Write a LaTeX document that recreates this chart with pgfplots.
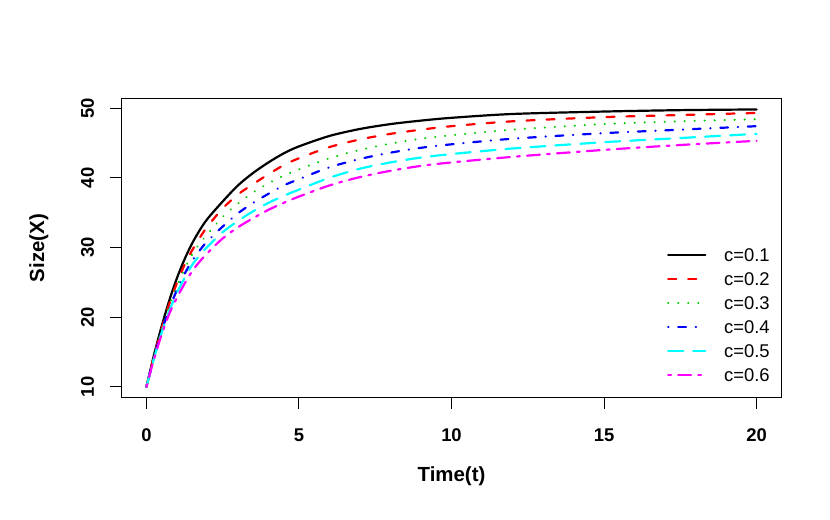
\documentclass[border=0pt]{standalone}
\usepackage{fontspec}
\setmainfont{Liberation Sans}
\usepackage{pgfplots}
\usepackage{pgfplotstable}
\pgfplotsset{compat=1.18}
\definecolor{rgreen}{RGB}{0,205,0}
\definecolor{rblue}{RGB}{0,0,255}
\definecolor{rcyan}{RGB}{0,255,255}
\definecolor{rmag}{RGB}{255,0,255}
\definecolor{rred}{RGB}{255,0,0}
\pgfplotstableread{
t    c1    c2   c3   c4   c5   c6
0    10    10   10   10   10   10
0.25 14.6  14.4 14.3 14.2 14.1 14.0
0.5  18.7  18.4 18.2 18.0 17.8 17.5
0.75 22.4  21.9 21.6 21.2 20.9 20.5
1    25.6  24.9 24.4 23.9 23.5 22.8
1.25 28.3  27.5 26.9 26.2 25.6 24.8
1.5  30.6  29.6 29.0 28.1 27.5 26.6
1.75 32.5  31.4 30.6 29.6 28.9 28.0
2    34.1  33.0 31.9 30.9 30.1 29.2
2.5  36.6  35.6 34.4 33.0 32.2 31.3
3    38.9  37.6 36.3 34.9 33.8 32.9
3.5  40.7  39.1 37.9 36.4 35.2 34.2
4    42.2  40.5 39.2 37.7 36.4 35.4
4.5  43.5  41.8 40.3 38.9 37.4 36.4
5    44.5  42.8 41.2 39.8 38.3 37.3
6    46.0  44.4 42.8 41.5 40.0 38.9
7    47.0  45.5 44.0 42.7 41.3 40.1
8    47.7  46.3 44.9 43.6 42.2 41.0
9    48.2  46.9 45.6 44.3 42.9 41.7
10   48.6  47.4 46.1 44.8 43.4 42.2
12   49.15 48.1 46.9 45.6 44.2 43.0
15   49.5  48.7 47.7 46.4 45.1 44.0
17.5 49.7  49.0 48.1 46.9 45.7 44.7
20   49.8  49.3 48.4 47.4 46.3 45.3
}\data
\begin{document}
\begin{tikzpicture}
\path[use as bounding box] (-122bp,-123bp) rectangle (708bp,397bp);
\begin{axis}[
  at={(0,0)}, anchor=south west,
  scale only axis, width=659bp, height=298bp,
  xmin=-0.8, xmax=20.8, ymin=8.55, ymax=51.3,
  xtick={0,5,10,15,20}, ytick={10,20,30,40,50},
  axis line style={line width=1bp},
  tick style={line width=1bp, black},
  tick align=outside, major tick length=12bp,
  xtick pos=bottom, ytick pos=left,
  /pgf/number format/assume math mode=true,
  tick label style={font=\fontsize{18.5}{22}\selectfont\bfseries},
  xticklabel style={anchor=base, yshift=-32.4bp},
  yticklabel style={xshift=-16bp, rotate=90, anchor=base},
  xlabel={Time(t)}, ylabel={Size(X)},
  label style={font=\fontsize{20.5}{24}\selectfont\bfseries},
  xlabel style={at={(axis description cs:0.5,-0.285)}, anchor=base},
  ylabel style={at={(axis description cs:-0.118,0.5)}, anchor=base, rotate=0},
  legend style={draw=none, fill=none, at={(axis description cs:0.8224,0.505)}, anchor=north west,
    font=\fontsize{18.5}{22}\selectfont, row sep=11bp, column sep=17.7bp,
    nodes={inner sep=0bp, text height=13bp, text depth=0bp}},
  legend cell align=left,
  legend image code/.code={\draw[#1] (0bp,0bp) -- (37bp,0bp);},
  every axis plot/.append style={line width=2.2bp, line cap=round, smooth},
]
\addplot[black] table[x=t,y=c1] {\data};
\addlegendentry{c=0.1}
\addplot[rred, dash pattern=on 8bp off 12bp] table[x=t,y=c2] {\data};
\addlegendentry{c=0.2}
\addplot[rgreen, dash pattern=on 0.1bp off 9.9bp] table[x=t,y=c3] {\data};
\addlegendentry{c=0.3}
\addplot[rblue, dash pattern=on 0.3bp off 9.7bp on 7.8bp off 9.7bp] table[x=t,y=c4] {\data};
\addlegendentry{c=0.4}
\addplot[rcyan, dash pattern=on 15bp off 10bp] table[x=t,y=c5] {\data};
\addlegendentry{c=0.5}
\addplot[rmag, dash pattern=on 2.8bp off 7.2bp on 12.8bp off 7.2bp] table[x=t,y=c6] {\data};
\addlegendentry{c=0.6}
\end{axis}
\end{tikzpicture}
\end{document}
